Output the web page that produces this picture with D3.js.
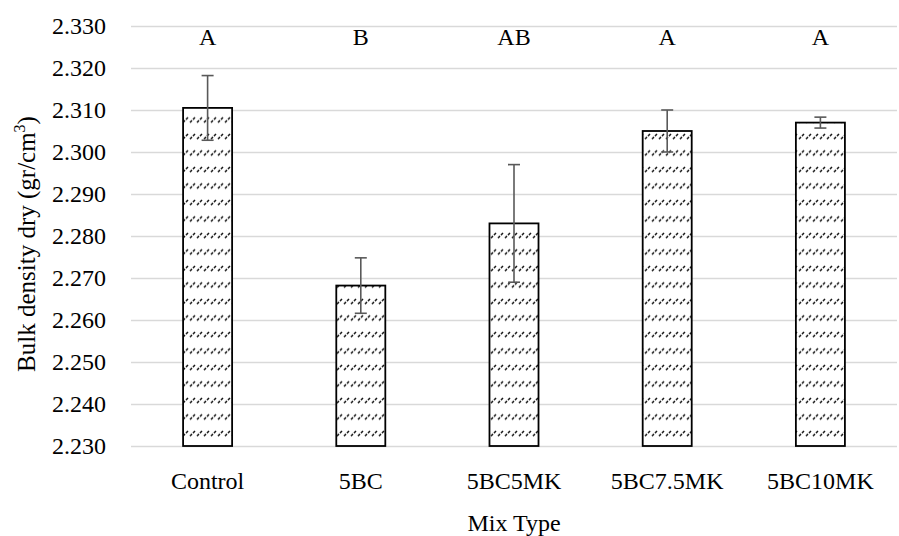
<!DOCTYPE html>
<html><head><meta charset="utf-8">
<script src="https://cdn.jsdelivr.net/npm/d3@7"></script>
<style>body{margin:0;background:#fff}svg{display:block}svg text{font-family:"Liberation Serif","DejaVu Serif",serif !important;fill:#000}</style>
</head><body><svg id="c" width="899" height="536"></svg>
<script>
const categories = ["Control","5BC","5BC5MK","5BC7.5MK","5BC10MK"];
const values = [2.3105,2.2682,2.2830,2.3050,2.3070];
const errors = [0.0077,0.0066,0.0140,0.0050,0.0013];
const letters = ["A","B","AB","A","A"];
const yTicks = [2.230,2.240,2.250,2.260,2.270,2.280,2.290,2.300,2.310,2.320,2.330];

const svg = d3.select("#c");
const SERIF = "'Liberation Serif','DejaVu Serif',serif";
const L=131,R=897,T=26,B=446;
const x = d3.scaleBand().domain(categories).range([L,R]).paddingInner(0.68).paddingOuter(0.34);
const y = d3.scaleLinear().domain([2.230,2.330]).range([B,T]);

const defs = svg.append("defs");
const pat = defs.append("pattern").attr("id","hatch").attr("patternUnits","userSpaceOnUse")
  .attr("width",7).attr("height",16.5);
pat.append("rect").attr("width",7).attr("height",16.5).attr("fill","#fff");
pat.append("line").attr("x1",1).attr("y1",7).attr("x2",3).attr("y2",5)
  .attr("stroke","#111").attr("stroke-width",1.5);
pat.append("line").attr("x1",4).attr("y1",4).attr("x2",6).attr("y2",2)
  .attr("stroke","#111").attr("stroke-width",1.5);

// gridlines
svg.append("g").selectAll("line").data(yTicks).join("line")
  .attr("x1",L).attr("x2",R).attr("y1",d=>Math.round(y(d))+0.5).attr("y2",d=>Math.round(y(d))+0.5)
  .attr("stroke","#d9d9d9").attr("stroke-width",1.3);

// y axis labels
const yAxis = d3.axisLeft(y).tickValues(yTicks).tickFormat(d3.format(".3f")).tickSize(0).tickPadding(0);
const ga = svg.append("g").attr("transform",`translate(106,0)`).call(yAxis).attr("font-family",SERIF);
ga.select(".domain").remove();
ga.selectAll("text").attr("font-size",24).style("font-family",SERIF).attr("fill","#000");

// bars
const bw = x.bandwidth();
svg.append("g").selectAll("rect").data(categories).join("rect")
  .attr("x",d=>x(d)).attr("width",bw)
  .attr("y",(d,i)=>y(values[i])).attr("height",(d,i)=>B-y(values[i]))
  .attr("fill","url(#hatch)").attr("stroke","#000").attr("stroke-width",1.8);

// error bars
const eg = svg.append("g").attr("stroke","#595959").attr("stroke-width",1.6);
categories.forEach((c,i)=>{
  const cx = x(c)+bw/2;
  eg.append("line").attr("x1",cx).attr("x2",cx).attr("y1",y(values[i]+errors[i])).attr("y2",y(values[i]-errors[i]));
  [values[i]+errors[i],values[i]-errors[i]].forEach(v=>{
    eg.append("line").attr("x1",cx-6).attr("x2",cx+6).attr("y1",y(v)).attr("y2",y(v));
  });
});

// letters
svg.append("g").selectAll("text").data(categories).join("text")
  .attr("x",d=>x(d)+bw/2).attr("y",45).attr("text-anchor","middle").attr("font-size",24)
  .style("font-family",SERIF).text((d,i)=>letters[i]);

// x axis labels
const xAxis = d3.axisBottom(x).tickSize(0).tickPadding(0);
const gx = svg.append("g").attr("transform",`translate(0,${B})`).call(xAxis).attr("font-family",SERIF);
gx.select(".domain").remove();
gx.selectAll("text").attr("font-size",24).style("font-family",SERIF).attr("fill","#000").attr("dy",null).attr("y",43);

// titles
svg.append("text").attr("x",(L+R)/2).attr("y",531).attr("text-anchor","middle").attr("font-size",24)
  .style("font-family",SERIF).text("Mix Type");
const yt = svg.append("text").attr("transform",`translate(35,${(T+B)/2+8}) rotate(-90)`)
  .attr("text-anchor","middle").attr("font-size",25).style("font-family",SERIF);
yt.append("tspan").text("Bulk density dry (gr/cm");
yt.append("tspan").attr("font-size",16).attr("dy",-10).text("3");
yt.append("tspan").attr("dy",10).text(")");
</script></body></html>
